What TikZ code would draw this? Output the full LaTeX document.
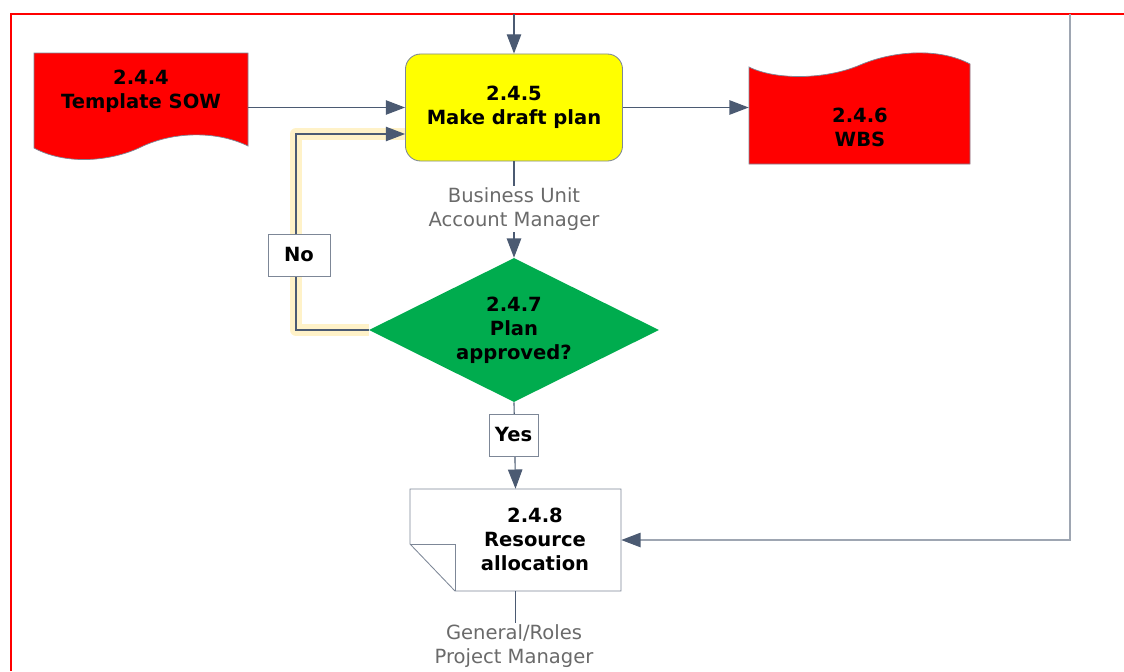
\documentclass[tikz,border=0pt]{standalone}
\usepackage{fontspec}
\setmainfont{DejaVu Sans}
\usetikzlibrary{arrows.meta,shapes.geometric}
\definecolor{rot}{HTML}{FF0000}
\definecolor{linie}{HTML}{4B5A72}
\definecolor{hlinie}{HTML}{9EA6B2}
\definecolor{rand}{HTML}{7D8797}
\definecolor{gelb}{HTML}{FFFF00}
\definecolor{gruen}{HTML}{00AC4E}
\definecolor{glanz}{HTML}{FFEDB0}
\definecolor{grau}{HTML}{6A6A6A}
\tikzset{
  txt/.style={font=\fontsize{13.9}{17}\selectfont\bfseries,align=center},
  pfeil/.style={-{Triangle[length=4.8mm,width=3.6mm,color=linie]},linie,line width=0.8pt},
  verb/.style={linie,line width=0.8pt},
  schritt/.style={rectangle,rounded corners=3.8mm,fill=gelb,draw=rand,line width=0.6pt,
    minimum width=54.25mm,minimum height=26.75mm,txt},
  frage/.style={diamond,shape aspect=2,fill=gruen,inner sep=0pt,minimum width=72.5mm,minimum height=36mm,txt},
  marke/.style={rectangle,fill=white,draw=rand,line width=0.6pt,minimum height=10.5mm,txt},
  rolle/.style={font=\fontsize{13.9}{17}\selectfont,text=grau,align=center,inner sep=1pt},
  dok/.style={fill=rot,draw=rand,line width=0.5pt},
  platz/.style={rectangle,inner sep=0pt},
}

\begin{document}
\begin{tikzpicture}[x=0.025cm,y=-0.025cm]
  \useasboundingbox (0,0) rectangle (1124,671);
  \draw[rot,line width=1.5pt] (11,671) -- (11,14) -- (1124,14);
  % documents
  \draw[dok] (34,53) -- (248,53) -- (248,146) .. controls (215,130) and (172,132) .. (141,147)
    .. controls (110,162) and (65,165) .. (34,148) -- cycle;
  \node[platz,minimum width=53.5mm,minimum height=23.75mm] (sow) at (141,100.5) {};
  \node[txt] at (141,91.5) {2.4.4\\Template SOW};
  \draw[dok] (749,164) -- (749,67) .. controls (775,80) and (825,80) .. (860,65)
    .. controls (895,50) and (940,48) .. (970,64) -- (970,164) -- cycle;
  \node[platz,minimum width=55.25mm,minimum height=25mm] (wbs) at (859.5,114) {};
  \node[txt] at (860,127) {2.4.6\\WBS};
  % steps
  \node[schritt] (plan) at (514,107.5) {2.4.5\\Make draft plan};
  \node[rolle] (rolle1) at (514,209) {Business Unit\\Account Manager};
  \node[frage] (pruef) at (514,330) {2.4.7\\Plan\\approved?};
  \draw[fill=white,draw=rand,line width=0.6pt] (410,489) -- (621,489) -- (621,591) -- (455,591) -- (410,544) -- cycle;
  \draw[rand,line width=0.6pt] (410,544) -- (455,544) -- (455,591);
  \node[platz,minimum width=52.75mm,minimum height=25.5mm] (res) at (515.5,540) {};
  \node[txt] at (535,539) {2.4.8\\Resource\\allocation};
  \node[rolle] (rolle2) at (514,646) {General/Roles\\Project Manager};
  \coordinate (oben) at (514,14);
  \coordinate (rechts) at (1070,14);
  \coordinate (rueck) at (296,134);
  % loop back
  \draw[glanz,opacity=0.7,line width=3mm,line join=round] (pruef.west) -| (rueck) -- (rueck -| plan.west);
  \draw[pfeil] (pruef.west) -| (rueck) -- (rueck -| plan.west);
  % connectors
  \draw[pfeil] (oben) -- (plan.north);
  \draw[pfeil] (sow.east |- plan) -- (plan.west);
  \draw[pfeil] (plan.east) -- (plan.east -| wbs.west);
  \draw[verb] (plan.south) -- (rolle1.north);
  \draw[pfeil] (rolle1.south) -- (pruef.north);
  \draw[pfeil] (pruef.south) -- (res.north);
  \draw[verb] (res.south) -- (res.south |- rolle2.north);
  \draw[pfeil,hlinie] (rechts) |- (res.east);
  \node[marke,minimum width=15.5mm] (nein) at (299,255) {No};
  \node[marke,minimum width=12.25mm] (ja) at (513.5,435) {Yes};
\end{tikzpicture}
\end{document}
